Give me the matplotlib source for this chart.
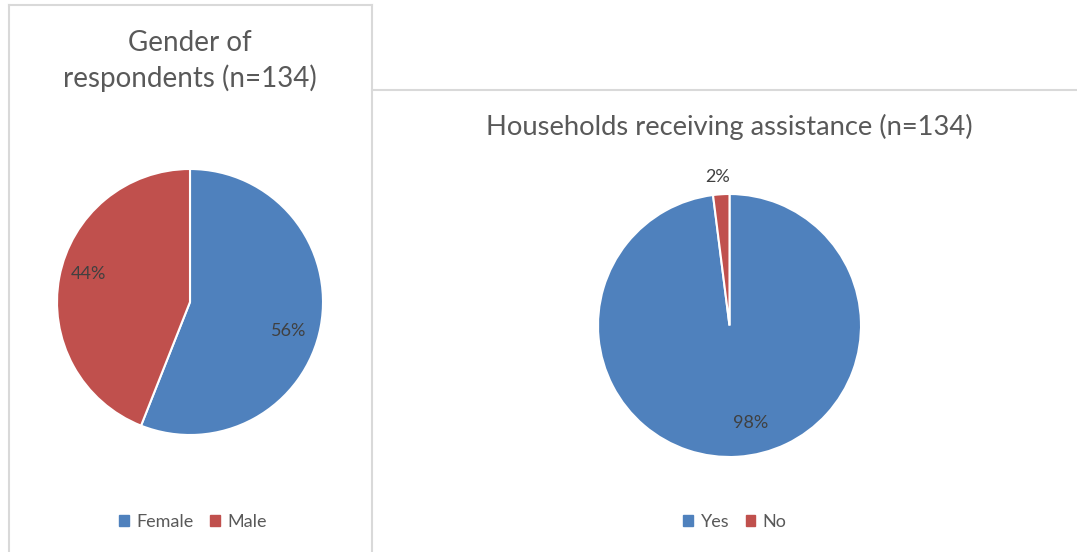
import matplotlib.pyplot as plt
from matplotlib.lines import Line2D
from matplotlib.patches import Patch

plt.rcParams['font.family'] = ['Lato', 'DejaVu Sans']

W, H = 1077, 552

# data
gender_labels = ['Female', 'Male']
gender_values = [56, 44]
assist_labels = ['Yes', 'No']
assist_values = [98, 2]

blue = '#4F81BD'
red = '#C0504D'
text_col = '#595959'
label_col = '#404040'
border = '#D9D9D9'

fig = plt.figure(figsize=(W / 100, H / 100), dpi=100)


def px_axes(x0, y0, w, h):
    # pixel box measured from the top-left corner
    return fig.add_axes([x0 / W, 1 - (y0 + h) / H, w / W, h / H])


# panel borders
fig.add_artist(Line2D([9 / W, 9 / W], [0, 1 - 5 / H], color=border, lw=1.5))
fig.add_artist(Line2D([9 / W, 372 / W], [1 - 5 / H, 1 - 5 / H], color=border, lw=1.5))
fig.add_artist(Line2D([372 / W, 372 / W], [0, 1 - 5 / H], color=border, lw=1.5))
fig.add_artist(Line2D([372 / W, 1], [1 - 90 / H, 1 - 90 / H], color=border, lw=1.5))

# left pie
ax1 = px_axes(57, 169, 266, 266)
_, _, at1 = ax1.pie(gender_values, colors=[blue, red], startangle=90, counterclock=False,
                    wedgeprops=dict(edgecolor='white', linewidth=1.5),
                    autopct='%d%%', pctdistance=0.77,
                    textprops=dict(color=label_col, fontsize=13))
at1[0].set_position((0.74, -0.22))
at1[1].set_position((-0.76, 0.21))
ax1.set_xlim(-1, 1)
ax1.set_ylim(-1, 1)

# right pie
ax2 = px_axes(598, 194, 263, 263)
wedges, texts, autotexts = ax2.pie(assist_values, colors=[blue, red], startangle=90,
                                   counterclock=False,
                                   wedgeprops=dict(edgecolor='white', linewidth=1.5),
                                   autopct='%d%%', pctdistance=0.75,
                                   textprops=dict(color=label_col, fontsize=13))
autotexts[0].set_position((0.16, -0.74))
autotexts[1].set_position((-0.09, 1.13))
ax2.set_xlim(-1, 1)
ax2.set_ylim(-1, 1)

# titles
fig.text(190 / W, 1 - 61 / H, 'Gender of\nrespondents (n=134)', ha='center', va='center',
         fontsize=20, color=text_col, linespacing=1.38)
fig.text(729 / W, 1 - 127 / H, 'Households receiving assistance (n=134)', ha='center',
         va='center', fontsize=19.7, color=text_col)

# legends
h1 = [Patch(color=c) for c in [blue, red]]
fig.legend(h1, gender_labels, loc='center', bbox_to_anchor=(193 / W, 1 - 522 / H),
           ncol=2, frameon=False, handlelength=0.55, handleheight=0.55, handletextpad=0.4,
           columnspacing=0.9, labelcolor=text_col, fontsize=13)
fig.legend(h1, assist_labels, loc='center', bbox_to_anchor=(735 / W, 1 - 522 / H),
           ncol=2, frameon=False, handlelength=0.55, handleheight=0.55, handletextpad=0.4,
           columnspacing=0.9, labelcolor=text_col, fontsize=13)

fig.savefig('out.png', dpi=100)
